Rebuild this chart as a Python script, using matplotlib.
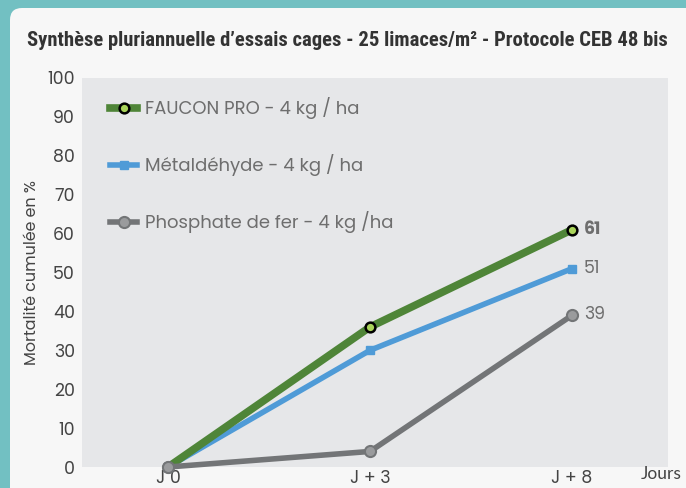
import matplotlib.pyplot as plt
from matplotlib.patches import FancyBboxPatch

days = ["J 0", "J + 3", "J + 8"]
faucon = [0, 36, 61]
metal = [0, 30, 51]
phosphate = [0, 4, 39]
labels = ["FAUCON PRO - 4 kg / ha", "Métaldéhyde - 4 kg / ha", "Phosphate de fer - 4 kg /ha"]

plt.rcParams['font.family'] = ['Poppins', 'Lato', 'DejaVu Sans']
txt = "#6e6e6e"
dark = "#444444"

fig = plt.figure(figsize=(6.86, 4.88), dpi=100)
fig.patch.set_facecolor("#72c0c2")

# fond : carte blanche arrondie
bg = fig.add_axes([0, 0, 1, 1], zorder=-10)
bg.set_xlim(0, 686)
bg.set_ylim(488, 0)
bg.axis("off")
bg.add_patch(FancyBboxPatch((10, 8), 700, 500, boxstyle="round,pad=0,rounding_size=12",
                            fc="#f7f7f7", ec="none"))

title = fig.text(27/686, 1 - 40/488,
                 "Synthèse pluriannuelle d’essais cages - 25 limaces/m² - Protocole CEB 48 bis",
                 family=["Roboto Condensed", "DejaVu Sans"], fontweight="bold", fontsize=17,
                 color="#333333", va="center", ha="left")

ax = fig.add_axes([82/686, 1 - 467/488, (668-82)/686, (467-78)/488])
ax.set_facecolor("#e6e7e9")
x = list(range(len(days)))

ax.plot(x, faucon, color="#4f8538", lw=5.5, marker="o", ms=7, mfc="#a9d45a",
        mec="black", mew=1.8, label=labels[0], zorder=4, clip_on=False)
ax.plot(x, metal, color="#4f9bd7", lw=4, marker="s", ms=6, mfc="#4f9bd7",
        mec="#4f9bd7", label=labels[1], zorder=3, clip_on=False)
ax.plot(x, phosphate, color="#737577", lw=4, marker="o", ms=8, mfc="#9a9b9d",
        mec="#737577", mew=1.5, label=labels[2], zorder=5, clip_on=False)

ax.text(x[2] + 0.06, faucon[2], str(faucon[2]), color=txt, fontsize=12.5,
        fontweight="bold", va="center")
ax.text(x[2] + 0.06, metal[2], str(metal[2]), color=txt, fontsize=12.5, va="center")
ax.text(x[2] + 0.06, phosphate[2], str(phosphate[2]), color=txt, fontsize=12.5, va="center")

ax.set_xlim(-0.426, 2.475)
ax.set_ylim(0, 100)
ax.set_yticks(range(0, 101, 10))
ax.set_xticks(x)
ax.set_xticklabels(days)
ax.tick_params(length=0, labelsize=12.5, colors=dark)
ax.tick_params(axis="y", pad=5)
ax.tick_params(axis="x", pad=2)
for s in ax.spines.values():
    s.set_visible(False)
ax.set_ylabel("Mortalité cumulée en %", fontsize=11.5, color=dark, labelpad=5)
fig.text(641/686, 1 - 474/488, "Jours", fontsize=12.5, color=dark, va="center", ha="left",
         family=["Lato", "DejaVu Sans"])

leg = ax.legend(loc="upper left", bbox_to_anchor=(0.02, 0.993), frameon=False,
                fontsize=13, labelspacing=1.95, handlelength=1.5, handletextpad=0.45)
for t in leg.get_texts():
    t.set_color(txt)

# ajuster la largeur du titre à celle de la référence
fig.canvas.draw()
w = title.get_window_extent().width
title.set_fontsize(17 * 643 / w)

fig.savefig("out.png", dpi=100, facecolor=fig.get_facecolor())
